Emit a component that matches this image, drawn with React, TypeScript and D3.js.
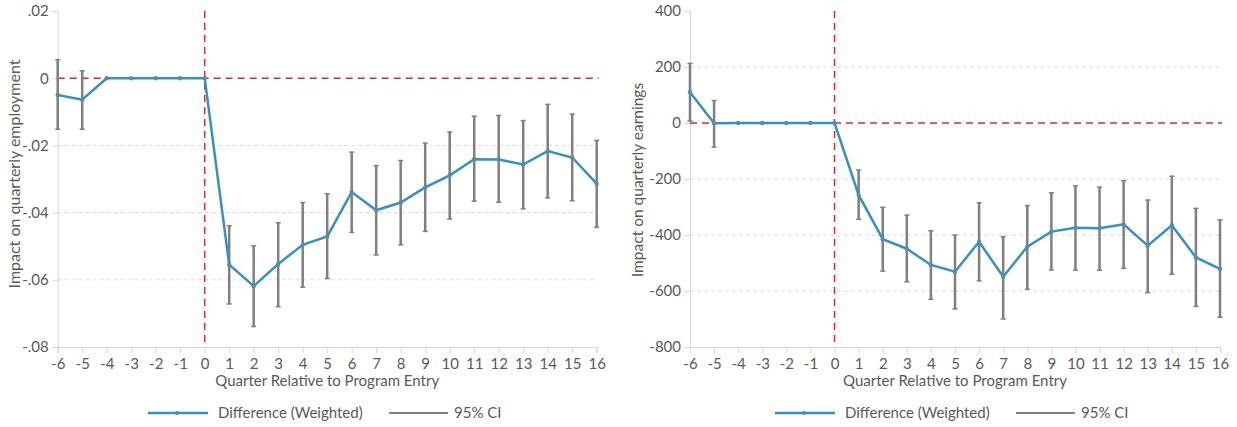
import React, { useEffect, useRef } from "react";
import * as d3 from "d3";

// quarters relative to program entry
const quarters = [-6, -5, -4, -3, -2, -1, 0, 1, 2, 3, 4, 5, 6, 7, 8, 9, 10, 11, 12, 13, 14, 15, 16];

// employment panel
const empEstimate = [-0.005, -0.0064, 0, 0, 0, 0, 0, -0.0555, -0.0619, -0.0553, -0.0496, -0.0471, -0.0339, -0.0393, -0.037, -0.0325, -0.0289, -0.0241, -0.0242, -0.0257, -0.0217, -0.0236, -0.0314];
const empLower = [-0.0152, -0.0152, null, null, null, null, null, -0.0672, -0.0739, -0.068, -0.0622, -0.0596, -0.0459, -0.0526, -0.0496, -0.0456, -0.0419, -0.0366, -0.0369, -0.0389, -0.0356, -0.0365, -0.0444];
const empUpper = [0.0055, 0.0022, null, null, null, null, null, -0.0439, -0.0499, -0.043, -0.037, -0.0344, -0.022, -0.026, -0.0245, -0.0193, -0.016, -0.0113, -0.0111, -0.0126, -0.0078, -0.0107, -0.0185];
const empTicks = [0.02, 0, -0.02, -0.04, -0.06, -0.08];
const empTickLabels = [".02", "0", "-.02", "-.04", "-.06", "-.08"];

// earnings panel
const earnEstimate = [110, -1, 0, 0, 0, 0, 0, -257, -415, -449, -507, -531, -424, -549, -442, -388, -374, -376, -362, -438, -365, -480, -521];
const earnLower = [7, -86, null, null, null, null, null, -344, -529, -567, -630, -664, -564, -700, -594, -525, -526, -526, -519, -606, -540, -655, -694];
const earnUpper = [213, 80, null, null, null, null, null, -168, -301, -329, -385, -400, -285, -406, -295, -249, -224, -229, -206, -275, -190, -305, -346];
const earnTicks = [400, 200, 0, -200, -400, -600, -800];
const earnTickLabels = ["400", "200", "0", "-200", "-400", "-600", "-800"];

const FONT = "Lato, 'Open Sans', sans-serif";
const TEXT = "#595959";
const BLUE = "#3391c6";
const GREY = "#7f7f7f";
const RED = "#e0282a";
const AXIS = "#d6d6de";

type Panel = {
  left: number;
  right: number;
  est: number[];
  lo: (number | null)[];
  hi: (number | null)[];
  ticks: number[];
  labels: string[];
  yTitle: string;
  yTitleX: number;
  yTitleY: number;
  yTitleSize: number;
  legendX: number;
};

const panels: Panel[] = [
  { left: 57.7, right: 596.7, est: empEstimate, lo: empLower, hi: empUpper, ticks: empTicks, labels: empTickLabels, yTitle: "Impact on quarterly employment", yTitleX: 15, yTitleY: 174, yTitleSize: 16, legendX: 148 },
  { left: 690, right: 1220, est: earnEstimate, lo: earnLower, hi: earnUpper, ticks: earnTicks, labels: earnTickLabels, yTitle: "Impact on quarterly earnings", yTitleX: 638, yTitleY: 180, yTitleSize: 15.5, legendX: 775 },
];

export default function App() {
  const ref = useRef<SVGSVGElement>(null);

  useEffect(() => {
    const svg = d3.select(ref.current);
    svg.selectAll("*").remove();
    const top = 11;
    const bottom = 347;

    panels.forEach((p) => {
      const x = d3.scaleLinear().domain([-6, 16]).range([p.left, p.right]);
      const y = d3.scaleLinear().domain([p.ticks[p.ticks.length - 1], p.ticks[0]]).range([bottom, top]);
      const g = svg.append("g");

      // dashed grid lines
      g.selectAll("line.grid")
        .data(p.ticks.filter((t) => t !== 0 && t !== p.ticks[0] && t !== p.ticks[p.ticks.length - 1]))
        .join("line")
        .attr("x1", p.left)
        .attr("x2", p.right)
        .attr("y1", (d) => y(d))
        .attr("y2", (d) => y(d))
        .attr("stroke", "#dcdce4")
        .attr("stroke-dasharray", "4,3");

      // axes
      const yAxis = g.append("g").attr("transform", `translate(${p.left},0)`)
        .call(d3.axisLeft(y).tickValues(p.ticks).tickFormat((d, i) => p.labels[i]).tickSize(5).tickPadding(4));
      const xAxis = g.append("g").attr("transform", `translate(0,${bottom})`)
        .call(d3.axisBottom(x).tickValues(quarters).tickFormat((d) => String(d)).tickSize(6).tickPadding(5));
      [yAxis, xAxis].forEach((a) => {
        a.selectAll("path, line").attr("stroke", AXIS);
        a.selectAll("text").attr("fill", TEXT).style("font-family", FONT).style("font-size", "15px");
      });

      // red reference lines
      g.append("line").attr("x1", p.left).attr("x2", p.right + 2).attr("y1", y(0)).attr("y2", y(0))
        .attr("stroke", RED).attr("stroke-width", 1.5).attr("stroke-dasharray", "7,5");
      g.append("line").attr("x1", x(0)).attr("x2", x(0)).attr("y1", top).attr("y2", bottom)
        .attr("stroke", RED).attr("stroke-width", 1.5).attr("stroke-dasharray", "7,5");

      // confidence intervals
      const ci = quarters.map((q, i) => ({ q, lo: p.lo[i], hi: p.hi[i] })).filter((d) => d.lo !== null);
      const ciG = g.selectAll("g.ci").data(ci).join("g");
      ciG.append("line").attr("x1", (d) => x(d.q)).attr("x2", (d) => x(d.q))
        .attr("y1", (d) => y(d.lo as number)).attr("y2", (d) => y(d.hi as number))
        .attr("stroke", GREY).attr("stroke-width", 2.5);
      ["lo", "hi"].forEach((k) => {
        ciG.append("line").attr("x1", (d) => x(d.q) - 2.5).attr("x2", (d) => x(d.q) + 2.5)
          .attr("y1", (d: any) => y(d[k])).attr("y2", (d: any) => y(d[k]))
          .attr("stroke", GREY).attr("stroke-width", 1.5);
      });

      // estimate line
      const pts = quarters.map((q, i) => ({ q, v: p.est[i] }));
      g.append("path").datum(pts)
        .attr("d", d3.line<{ q: number; v: number }>().x((d) => x(d.q)).y((d) => y(d.v)))
        .attr("fill", "none").attr("stroke", BLUE).attr("stroke-width", 2.5);
      g.selectAll("circle.pt").data(pts).join("circle")
        .attr("cx", (d) => x(d.q)).attr("cy", (d) => y(d.v)).attr("r", 2.2)
        .attr("fill", "#5d8aa8");

      // axis titles
      g.append("text").attr("x", (p.left + p.right) / 2).attr("y", 386)
        .attr("text-anchor", "middle").attr("fill", TEXT)
        .style("font-family", FONT).style("font-size", "15px")
        .text("Quarter Relative to Program Entry");
      g.append("text").attr("transform", `translate(${p.yTitleX + 5},${p.yTitleY}) rotate(-90)`)
        .attr("text-anchor", "middle").attr("fill", TEXT)
        .style("font-family", FONT).style("font-size", `${p.yTitleSize}px`)
        .text(p.yTitle);

      // legend
      const lg = g.append("g").attr("transform", `translate(${p.legendX},413)`);
      lg.append("line").attr("x1", 0).attr("x2", 60).attr("stroke", BLUE).attr("stroke-width", 2.5);
      lg.append("circle").attr("cx", 29).attr("r", 2).attr("fill", "#5d8aa8");
      lg.append("text").attr("x", 70).attr("y", 5).attr("fill", TEXT)
        .style("font-family", FONT).style("font-size", "15px").text("Difference (Weighted)");
      lg.append("line").attr("x1", 241).attr("x2", 300).attr("stroke", GREY).attr("stroke-width", 2);
      lg.append("text").attr("x", 306).attr("y", 5).attr("fill", TEXT)
        .style("font-family", FONT).style("font-size", "15px").text("95% CI");
    });
  }, []);

  return (
    <svg ref={ref} width={1237} height={427}
      style={{ position: "absolute", left: 0, top: 0, background: "#fff" }} />
  );
}
